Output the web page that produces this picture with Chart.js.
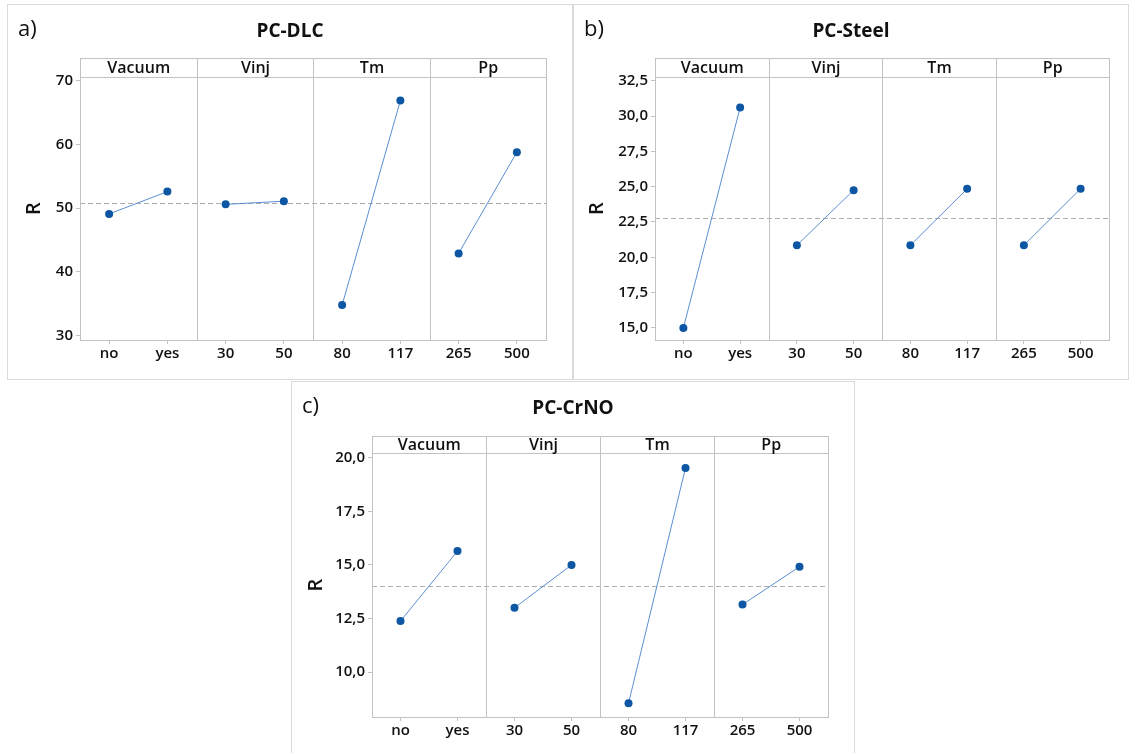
<!DOCTYPE html>
<html>
<head>
<meta charset="utf-8">
<script src="https://cdn.jsdelivr.net/npm/chart.js@4.4.0/dist/chart.umd.min.js"></script>
<style>
body { margin: 0; background: #fff; width: 1129px; height: 753px; overflow: hidden; position: relative; }
.panel { position: absolute; border: 1px solid #dadada; background: #fff; }
.panel canvas { display: block; }
</style>
</head>
<body>
<div class="panel" style="left:7px;top:4px;"><canvas id="dlc" width="564" height="374"></canvas></div>
<div class="panel" style="left:573px;top:4px;"><canvas id="steel" width="554" height="374"></canvas></div>
<div class="panel" style="left:291px;top:381px;"><canvas id="crno" width="562" height="380"></canvas></div>
<script>
// factor levels along x, factor names in the header strip
const levels = ['no', 'yes', '30', '50', '80', '117', '265', '500'];
const factors = ['Vacuum', 'Vinj', 'Tm', 'Pp'];

// mean R per level
const dlcR = [49.1, 52.6, 50.6, 51.1, 34.8, 66.9, 42.9, 58.8];
const steelR = [15.0, 30.6, 20.85, 24.75, 20.85, 24.85, 20.85, 24.85];
const crnoR = [12.38, 15.65, 13.0, 15.0, 8.54, 19.53, 13.15, 14.92];

// overall mean (dashed line)
const dlcMean = 50.85;
const steelMean = 22.8;
const crnoMean = 14.0;

// y ticks
const dlcTicks = [30, 40, 50, 60, 70];
const dlcTickLabels = ['30', '40', '50', '60', '70'];
const steelTicks = [15, 17.5, 20, 22.5, 25, 27.5, 30, 32.5];
const steelTickLabels = ['15,0', '17,5', '20,0', '22,5', '25,0', '27,5', '30,0', '32,5'];
const crnoTicks = [10, 12.5, 15, 17.5, 20];
const crnoTickLabels = ['10,0', '12,5', '15,0', '17,5', '20,0'];

const FONT = "'Open Sans', sans-serif";
const INK = '#111111';
const FRAME = '#c2c2c2';

// draws the panel frame, header strip, dividers, mean line and the a)/b)/c) tag
const facets = {
  id: 'facets',
  beforeDatasetsDraw(chart, args, opts) {
    const ctx = chart.ctx;
    const a = chart.chartArea;
    const x = chart.scales.x, y = chart.scales.y;
    const top = a.top - opts.strip;
    ctx.save();

    // mean
    const my = Math.round(y.getPixelForValue(opts.mean)) + 0.5;
    ctx.strokeStyle = '#ababab';
    ctx.lineWidth = 1;
    ctx.setLineDash([5, 3]);
    ctx.beginPath(); ctx.moveTo(a.left, my); ctx.lineTo(a.right, my); ctx.stroke();
    ctx.setLineDash([]);

    // frame + strip
    ctx.strokeStyle = FRAME;
    const L = Math.round(a.left) + 0.5, R = Math.round(a.right) + 0.5;
    const T = Math.round(top) + 0.5, B = Math.round(a.bottom) + 0.5, H = Math.round(a.top) + 0.5;
    ctx.strokeRect(L, T, R - L, B - T);
    ctx.beginPath(); ctx.moveTo(L, H); ctx.lineTo(R, H); ctx.stroke();

    const edges = [a.left];
    for (let k = 1; k < factors.length; k++) {
      const xs = Math.round((x.getPixelForValue(2 * k - 1) + x.getPixelForValue(2 * k)) / 2) + 0.5;
      edges.push(xs);
      ctx.beginPath(); ctx.moveTo(xs, T); ctx.lineTo(xs, B); ctx.stroke();
    }
    edges.push(a.right);

    ctx.fillStyle = INK;
    ctx.font = '600 16px ' + FONT;
    ctx.textAlign = 'center';
    ctx.textBaseline = 'middle';
    factors.forEach((f, k) => {
      ctx.fillText(f, (edges[k] + edges[k + 1]) / 2, (top + a.top) / 2 + 1);
    });

    ctx.font = '22px ' + FONT;
    ctx.textAlign = 'left';
    ctx.textBaseline = 'alphabetic';
    ctx.fillText(opts.tag, 10, 31);
    ctx.restore();
  }
};

function makeChart(id, cfg) {
  const datasets = factors.map((f, k) => ({
    label: f,
    data: cfg.values.map((v, i) => Math.floor(i / 2) === k ? v : null),
    borderColor: '#5b8fd1',
    borderWidth: 1,
    pointRadius: 4,
    pointBorderWidth: 0,
    pointBackgroundColor: '#0c56a4',
    pointBorderColor: '#0c56a4',
    spanGaps: false,
    tension: 0
  }));

  return new Chart(document.getElementById(id), {
    type: 'line',
    data: { labels: levels, datasets: datasets },
    plugins: [facets],
    options: {
      responsive: false,
      animation: false,
      devicePixelRatio: 1,
      layout: { padding: 0 },
      plugins: {
        legend: { display: false },
        tooltip: { enabled: false },
        title: {
          display: true,
          text: cfg.title,
          color: INK,
          font: { family: FONT, size: 19, weight: '700', lineHeight: 1 },
          padding: { top: 17, bottom: cfg.titleGap }
        },
        facets: { mean: cfg.mean, tag: cfg.tag, strip: cfg.strip }
      },
      scales: {
        x: {
          offset: true,
          border: { display: false },
          grid: { drawOnChartArea: false, tickLength: 4, color: FRAME },
          ticks: { color: INK, font: { family: FONT, size: 15, weight: '600' }, padding: 1, maxRotation: 0, autoSkip: false },
          afterFit: s => { s.height = cfg.xh; }
        },
        y: {
          type: 'linear',
          position: 'left',
          min: cfg.min,
          max: cfg.max,
          border: { display: false },
          grid: { drawOnChartArea: false, tickLength: 4, color: FRAME },
          afterBuildTicks: s => { s.ticks = cfg.ticks.map(v => ({ value: v })); },
          ticks: {
            color: INK,
            font: { family: FONT, size: 15, weight: '600' },
            padding: 3,
            callback: (v, i) => cfg.tickLabels[i]
          },
          title: {
            display: true,
            text: 'R',
            color: INK,
            font: { family: FONT, size: 20, weight: '600', lineHeight: 1 },
            padding: { top: cfg.rPad, bottom: 0 }
          },
          afterFit: s => { s.width = cfg.yw; }
        },
        y2: {
          type: 'linear',
          position: 'right',
          grid: { display: false },
          border: { display: false },
          ticks: { display: false },
          afterFit: s => { s.width = cfg.rw; }
        }
      }
    }
  });
}

makeChart('dlc', {
  title: 'PC-DLC', tag: 'a)', values: dlcR, mean: dlcMean,
  min: 29.3, max: 70.6, ticks: dlcTicks, tickLabels: dlcTickLabels,
  yw: 72, rw: 26, xh: 39, titleGap: 36, strip: 19, rPad: 16
});

makeChart('steel', {
  title: 'PC-Steel', tag: 'b)', values: steelR, mean: steelMean,
  min: 14.15, max: 32.76, ticks: steelTicks, tickLabels: steelTickLabels,
  yw: 81, rw: 19, xh: 39, titleGap: 36, strip: 19, rPad: 13
});

makeChart('crno', {
  title: 'PC-CrNO', tag: 'c)', values: crnoR, mean: crnoMean,
  min: 7.9, max: 20.23, ticks: crnoTicks, tickLabels: crnoTickLabels,
  yw: 80, rw: 26, xh: 45, titleGap: 35, strip: 17, rPad: 14
});
</script>
</body>
</html>
